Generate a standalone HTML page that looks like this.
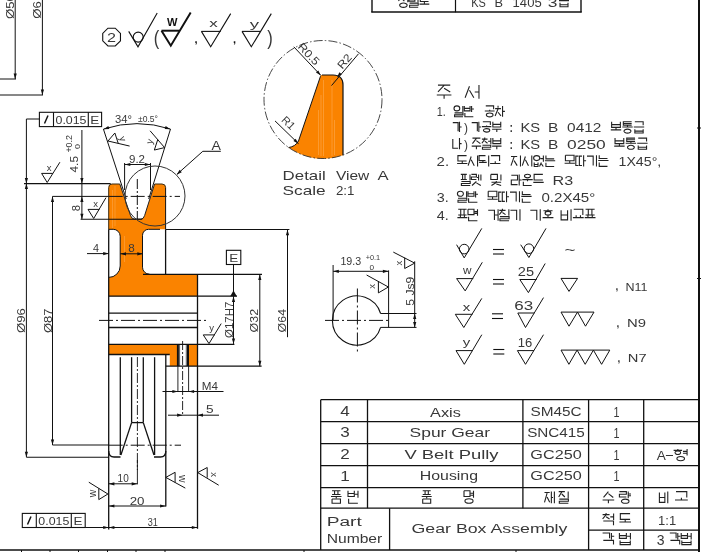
<!DOCTYPE html>
<html><head><meta charset="utf-8"><style>
html,body{margin:0;padding:0;background:#fff;overflow:hidden;width:701px;height:552px;}
svg{display:block;will-change:transform;font-family:"Liberation Sans",sans-serif;}
</style></head><body><svg width="701" height="552" viewBox="0 0 701 552" stroke-linecap="butt"><line x1="699" y1="0" x2="699" y2="552" stroke="#111" stroke-width="2"/>
<line x1="0" y1="550" x2="699" y2="550" stroke="#111" stroke-width="1.4"/>
<line x1="21.5" y1="550" x2="21.5" y2="552" stroke="#111" stroke-width="1"/>
<line x1="50" y1="550" x2="50" y2="552" stroke="#111" stroke-width="1"/>
<line x1="78.5" y1="550" x2="78.5" y2="552" stroke="#111" stroke-width="1"/>
<line x1="107.5" y1="550" x2="107.5" y2="552" stroke="#111" stroke-width="1"/>
<line x1="136" y1="550" x2="136" y2="552" stroke="#111" stroke-width="1"/>
<line x1="165" y1="550" x2="165" y2="552" stroke="#111" stroke-width="1"/>
<line x1="304" y1="550" x2="304" y2="552" stroke="#111" stroke-width="1"/>
<line x1="516" y1="550" x2="516" y2="552" stroke="#111" stroke-width="1"/>
<line x1="697" y1="128" x2="701" y2="128" stroke="#111" stroke-width="1"/>
<line x1="697" y1="278.5" x2="701" y2="278.5" stroke="#111" stroke-width="1"/>
<line x1="372" y1="0" x2="372" y2="12.3" stroke="#111" stroke-width="1.4"/>
<line x1="455.5" y1="0" x2="455.5" y2="12.3" stroke="#111" stroke-width="1.2"/>
<line x1="581" y1="0" x2="581" y2="12.3" stroke="#111" stroke-width="1.4"/>
<line x1="371.3" y1="12" x2="581.7" y2="12" stroke="#111" stroke-width="1.4"/>
<path d="M108.7 187.5Q108.7 184 112 184L119.8 184L130.6 215.8Q131.8 219.1 134.5 219.1L141 219.1Q143.5 219.1 144.6 215.6L154.6 184L162 184Q165.6 184 165.6 187.5L165.6 229.3L148.5 229.3A6 6 0 0 0 142.5 235.3L142.5 267.2A7 7 0 0 0 149.5 274.2L197.5 274.2L197.5 296.2L108.7 296.2L108.7 277.4A11.4 11.4 0 0 0 120.2 266L120.2 236.2A7 7 0 0 0 113.2 229.3L108.7 229.3Z" fill="#FA8300"/>
<path d="M108.7 344.4L177.9 344.4L177.9 366.1L169.8 366.1L169.8 354.5L108.7 354.5Z" fill="#FA8300"/>
<rect x="188" y="344.4" width="9.5" height="21.7" fill="#FA8300"/>
<line x1="112.5" y1="190" x2="112.5" y2="228" stroke="#FCA548" stroke-width="0.6"/>
<line x1="115" y1="186" x2="115" y2="226" stroke="#FCA548" stroke-width="0.6"/>
<line x1="124.5" y1="236" x2="124.5" y2="262" stroke="#FCA548" stroke-width="0.6"/>
<path d="M108.7 229.2L108.7 529.4" stroke="#111" stroke-width="1.3" fill="none" />
<path d="M108.7 229.3L113.2 229.3A7 7 0 0 1 120.2 236.2L120.2 266A11.4 11.4 0 0 1 108.7 277.4" stroke="#111" stroke-width="1.0" fill="none" />
<path d="M108.7 229.3L108.7 187.5Q108.7 184 112 184L119.8 184" stroke="#3a2a10" stroke-width="1.0" fill="none" />
<path d="M154.6 184L162 184Q165.6 184 165.6 187.5" stroke="#3a2a10" stroke-width="1.0" fill="none" />
<path d="M119.8 184L130.6 215.8Q131.8 219.1 134.5 219.1L141 219.1Q143.5 219.1 144.6 215.6L154.6 184" stroke="#222" stroke-width="1.0" fill="none" />
<path d="M165.6 187.5L165.6 229.3M160 229.3L148.5 229.3A6 6 0 0 0 142.5 235.3L142.5 267.2A7 7 0 0 0 149.5 274.2" stroke="#111" stroke-width="1.0" fill="none" />
<line x1="165.6" y1="229.2" x2="165.6" y2="274.3" stroke="#111" stroke-width="1.3"/>
<line x1="143" y1="274.3" x2="262" y2="274.3" stroke="#111" stroke-width="1.3"/>
<line x1="166" y1="229.5" x2="289.4" y2="229.5" stroke="#111" stroke-width="1.1"/>
<line x1="108.7" y1="296.2" x2="237" y2="296.2" stroke="#111" stroke-width="1.3"/>
<line x1="108.7" y1="313.2" x2="197.5" y2="313.2" stroke="#111" stroke-width="1.3"/>
<line x1="108.7" y1="327.5" x2="197.5" y2="327.5" stroke="#111" stroke-width="1.3"/>
<line x1="108.7" y1="344.4" x2="234.4" y2="344.4" stroke="#111" stroke-width="1.3"/>
<line x1="108.7" y1="354.5" x2="169.8" y2="354.5" stroke="#111" stroke-width="1.3"/>
<line x1="197.5" y1="274.3" x2="197.5" y2="528.8" stroke="#111" stroke-width="1.3"/>
<line x1="165.8" y1="354.5" x2="165.8" y2="506.6" stroke="#111" stroke-width="1.3"/>
<line x1="165.8" y1="366.1" x2="261.6" y2="366.1" stroke="#111" stroke-width="1.3"/>
<line x1="177.9" y1="344.4" x2="177.9" y2="366.1" stroke="#111" stroke-width="2.0"/>
<line x1="188" y1="344.4" x2="188" y2="366.1" stroke="#111" stroke-width="2.0"/>
<line x1="179.6" y1="344.4" x2="179.6" y2="366.1" stroke="#111" stroke-width="0.7"/>
<line x1="186.3" y1="344.4" x2="186.3" y2="366.1" stroke="#111" stroke-width="0.7"/>
<line x1="177.9" y1="366.1" x2="177.9" y2="391.5" stroke="#111" stroke-width="0.9"/>
<line x1="188.6" y1="366.1" x2="188.6" y2="391.5" stroke="#111" stroke-width="0.9"/>
<line x1="182.6" y1="341" x2="182.6" y2="415.3" stroke="#111" stroke-width="0.9" stroke-dasharray="9 2 2 2"/>
<line x1="120.3" y1="357.2" x2="120.3" y2="455" stroke="#111" stroke-width="1.3"/>
<line x1="154.6" y1="357.2" x2="154.6" y2="455" stroke="#111" stroke-width="1.3"/>
<line x1="131.6" y1="357.2" x2="131.6" y2="422.6" stroke="#111" stroke-width="1.3"/>
<line x1="143.3" y1="357.2" x2="143.3" y2="422.6" stroke="#111" stroke-width="1.3"/>
<path d="M131.6 422.6L143.3 422.6" stroke="#111" stroke-width="1.3" fill="none"/>
<path d="M131.6 422.6L120.9 455" stroke="#111" stroke-width="1.3" fill="none"/>
<path d="M143.3 422.6L154 455" stroke="#111" stroke-width="1.3" fill="none"/>
<path d="M108.7 451Q108.7 457 114 457L120.5 457" stroke="#111" stroke-width="1.3" fill="none" />
<path d="M154 457L160.5 457Q165.8 457 165.8 451" stroke="#111" stroke-width="1.3" fill="none" />
<line x1="137.4" y1="357" x2="137.4" y2="470" stroke="#111" stroke-width="0.9" stroke-dasharray="10 2 2 2"/>
<line x1="137.4" y1="460" x2="137.4" y2="484.3" stroke="#111" stroke-width="0.9"/>
<line x1="103.4" y1="129" x2="126.2" y2="199" stroke="#111" stroke-width="1.0"/>
<line x1="170.5" y1="129" x2="148.7" y2="199" stroke="#111" stroke-width="1.0"/>
<line x1="99" y1="320.4" x2="207" y2="320.4" stroke="#111" stroke-width="1.0" stroke-dasharray="14 3 2 3"/>
<line x1="108.7" y1="196.4" x2="180" y2="196.4" stroke="#111" stroke-width="1.0" stroke-dasharray="14 3 2 3"/>
<line x1="52.5" y1="196.4" x2="108.7" y2="196.4" stroke="#111" stroke-width="1.0"/>
<line x1="137.3" y1="179" x2="137.3" y2="219" stroke="#111" stroke-width="1.0" stroke-dasharray="10 2 2 2"/>
<line x1="108.7" y1="445.2" x2="181" y2="445.2" stroke="#111" stroke-width="1.0" stroke-dasharray="14 3 2 3"/>
<line x1="24" y1="183.6" x2="110.7" y2="183.6" stroke="#111" stroke-width="1.1"/>
<line x1="80.6" y1="219.2" x2="142.2" y2="219.2" stroke="#111" stroke-width="1.1"/>
<line x1="26.4" y1="457.2" x2="108.7" y2="457.2" stroke="#111" stroke-width="1.1"/>
<line x1="52.5" y1="445" x2="108.7" y2="445" stroke="#111" stroke-width="1.1"/>
<line x1="124.6" y1="163" x2="124.6" y2="190" stroke="#111" stroke-width="1.0"/>
<line x1="150.5" y1="163" x2="150.5" y2="190" stroke="#111" stroke-width="1.0"/>
<rect x="39.4" y="112.3" width="62.2" height="14.3" fill="none" stroke="#111" stroke-width="1.1"/>
<line x1="53.5" y1="112.3" x2="53.5" y2="126.6" stroke="#111" stroke-width="1.1"/>
<line x1="88.3" y1="112.3" x2="88.3" y2="126.6" stroke="#111" stroke-width="1.1"/>
<path d="M44.5 123.5L48 115.5" stroke="#111" stroke-width="1.4" fill="none" />
<text x="55.5" y="123.8" font-size="10.5" fill="#383838" text-anchor="start" font-weight="normal" font-family="Liberation Sans" textLength="31" lengthAdjust="spacingAndGlyphs">0.015</text>
<text x="90.3" y="123.8" font-size="10.5" fill="#383838" text-anchor="start" font-weight="normal" font-family="Liberation Sans" textLength="9" lengthAdjust="spacingAndGlyphs">E</text>
<path d="M39.4 119L26.4 119L26.4 183.4" stroke="#111" stroke-width="1.0" fill="none"/>
<path d="M26.4 183.4L24.8 177.9L28 177.9Z" fill="#111"/>
<line x1="26.4" y1="183.4" x2="26.4" y2="457.2" stroke="#111" stroke-width="1.0"/>
<path d="M26.4 183.6L28 189.1L24.8 189.1Z" fill="#111"/>
<path d="M26.4 457.2L24.8 451.7L28 451.7Z" fill="#111"/>
<text x="25.1" y="333" font-size="10.5" fill="#383838" text-anchor="start" font-weight="normal" font-family="Liberation Sans" textLength="25" lengthAdjust="spacingAndGlyphs" transform="rotate(-90 25.1 333)">Ø96</text>
<line x1="52.5" y1="196.4" x2="52.5" y2="445" stroke="#111" stroke-width="1.0"/>
<path d="M52.5 196.6L54.1 202.1L50.9 202.1Z" fill="#111"/>
<path d="M52.5 445L50.9 439.5L54.1 439.5Z" fill="#111"/>
<text x="51.7" y="333" font-size="10.5" fill="#383838" text-anchor="start" font-weight="normal" font-family="Liberation Sans" textLength="24.5" lengthAdjust="spacingAndGlyphs" transform="rotate(-90 51.7 333)">Ø87</text>
<line x1="81.9" y1="130" x2="81.9" y2="219.2" stroke="#111" stroke-width="1.0"/>
<path d="M81.9 183.4L80.3 177.9L83.5 177.9Z" fill="#111"/>
<path d="M81.9 196.6L83.5 202.1L80.3 202.1Z" fill="#111"/>
<path d="M81.9 219.2L80.3 213.7L83.5 213.7Z" fill="#111"/>
<text x="77.8" y="172.5" font-size="10.5" fill="#383838" text-anchor="start" font-weight="normal" font-family="Liberation Sans" textLength="16.5" lengthAdjust="spacingAndGlyphs" transform="rotate(-90 77.8 172.5)">4.5</text>
<text x="72.4" y="152.6" font-size="9" fill="#383838" text-anchor="start" font-weight="normal" font-family="Liberation Sans" textLength="17.5" lengthAdjust="spacingAndGlyphs" transform="rotate(-90 72.4 152.6)">+0.2</text>
<text x="79.8" y="149" font-size="7.5" fill="#383838" text-anchor="start" font-weight="normal" font-family="Liberation Sans" textLength="5" lengthAdjust="spacingAndGlyphs" transform="rotate(-90 79.8 149)">0</text>
<text x="79.7" y="211.2" font-size="10.5" fill="#383838" text-anchor="start" font-weight="normal" font-family="Liberation Sans" textLength="6.3" lengthAdjust="spacingAndGlyphs" transform="rotate(-90 79.7 211.2)">8</text>
<path d="M41.6 173.4L47.2 182.5L59.9 162.2" stroke="#111" stroke-width="1.0" fill="none"/>
<path d="M41.6 173.4L52.8 173.4" stroke="#111" stroke-width="1.0" fill="none"/>
<text x="49" y="171" font-size="9.5" fill="#383838" text-anchor="middle" font-weight="normal" font-family="Liberation Sans" transform="rotate(0 49 171)">x</text>
<path d="M88 209.4L93.7 218.5L106 197.6" stroke="#111" stroke-width="1.0" fill="none"/>
<path d="M88 209.4L99.4 209.4" stroke="#111" stroke-width="1.0" fill="none"/>
<text x="95.7" y="206.5" font-size="9.5" fill="#383838" text-anchor="middle" font-weight="normal" font-family="Liberation Sans" transform="rotate(0 95.7 206.5)">x</text>
<line x1="87" y1="253.6" x2="108.7" y2="253.6" stroke="#111" stroke-width="1.0"/>
<path d="M108.7 253.6L103.2 255.2L103.2 252Z" fill="#111"/>
<text x="93" y="252" font-size="10.5" fill="#383838" text-anchor="start" font-weight="normal" font-family="Liberation Sans" textLength="6" lengthAdjust="spacingAndGlyphs">4</text>
<line x1="120.3" y1="253.8" x2="143" y2="253.8" stroke="#111" stroke-width="1.0"/>
<path d="M120.5 253.8L126 252.2L126 255.4Z" fill="#111"/>
<path d="M142.8 253.8L137.3 255.4L137.3 252.2Z" fill="#111"/>
<text x="131.6" y="252" font-size="10.5" fill="#383838" text-anchor="middle" font-weight="normal" font-family="Liberation Sans" textLength="6.5" lengthAdjust="spacingAndGlyphs">8</text>
<path d="M103.6 129A109.3 109.3 0 0 1 170.4 129" stroke="#111" stroke-width="1.0" fill="none" />
<path d="M103.6 129.2L108.34 125.98L109.33 129.02Z" fill="#111"/>
<path d="M170.4 129.2L164.67 129.02L165.66 125.98Z" fill="#111"/>
<text x="115" y="123.2" font-size="10.5" fill="#383838" text-anchor="start" font-weight="normal" font-family="Liberation Sans" textLength="17" lengthAdjust="spacingAndGlyphs">34°</text>
<text x="138" y="122" font-size="8.5" fill="#383838" text-anchor="start" font-weight="normal" font-family="Liberation Sans" textLength="20" lengthAdjust="spacingAndGlyphs">±0.5°</text>
<path d="M114.86 132.99L108 141L129.62 146.07" stroke="#111" stroke-width="1.0" fill="none"/>
<path d="M114.86 132.99L118.26 143.45" stroke="#111" stroke-width="1.0" fill="none"/>
<text x="119.68" y="139.73" font-size="9.5" fill="#383838" text-anchor="middle" font-weight="normal" font-family="Liberation Sans" transform="rotate(72 119.68 139.73)">y</text>
<path d="M154.34 150.05L164.6 147.6L150.08 130.79" stroke="#111" stroke-width="1.0" fill="none"/>
<path d="M154.34 150.05L157.74 139.59" stroke="#111" stroke-width="1.0" fill="none"/>
<text x="152.83" y="142.41" font-size="9.5" fill="#383838" text-anchor="middle" font-weight="normal" font-family="Liberation Sans" transform="rotate(-72 152.83 142.41)">y</text>
<line x1="124.6" y1="164.5" x2="150.5" y2="164.5" stroke="#111" stroke-width="1.0"/>
<path d="M124.8 164.5L130.3 162.9L130.3 166.1Z" fill="#111"/>
<path d="M150.3 164.5L144.8 166.1L144.8 162.9Z" fill="#111"/>
<text x="129" y="163" font-size="10" fill="#383838" text-anchor="start" font-weight="normal" font-family="Liberation Sans" textLength="16" lengthAdjust="spacingAndGlyphs">9.2</text>
<circle cx="155" cy="196" r="30" fill="none" stroke="#333" stroke-width="1.0"/>
<path d="M220.8 151.3L202.8 151.3L177 174.3" stroke="#111" stroke-width="1.0" fill="none"/>
<path d="M176.6 174.7L179.64 169.85L181.77 172.24Z" fill="#111"/>
<text x="211.6" y="150.4" font-size="12.5" fill="#383838" text-anchor="start" font-weight="normal" font-family="Liberation Sans" textLength="9.4" lengthAdjust="spacingAndGlyphs">A</text>
<rect x="22.3" y="513.4" width="62.9" height="14.1" fill="none" stroke="#111" stroke-width="1.1"/>
<line x1="36.3" y1="513.4" x2="36.3" y2="527.5" stroke="#111" stroke-width="1.1"/>
<line x1="71.3" y1="513.4" x2="71.3" y2="527.5" stroke="#111" stroke-width="1.1"/>
<path d="M27.5 524.5L31 516.5" stroke="#111" stroke-width="1.4" fill="none" />
<text x="38.3" y="525" font-size="10.5" fill="#383838" text-anchor="start" font-weight="normal" font-family="Liberation Sans" textLength="31" lengthAdjust="spacingAndGlyphs">0.015</text>
<text x="73.5" y="525" font-size="10.5" fill="#383838" text-anchor="start" font-weight="normal" font-family="Liberation Sans" textLength="9" lengthAdjust="spacingAndGlyphs">E</text>
<line x1="85.2" y1="527.5" x2="108.7" y2="527.5" stroke="#111" stroke-width="1.0"/>
<path d="M108.7 527.5L103.2 529.1L103.2 525.9Z" fill="#111"/>
<line x1="108.7" y1="483.8" x2="137.4" y2="483.8" stroke="#111" stroke-width="1.0"/>
<path d="M108.9 483.8L114.4 482.2L114.4 485.4Z" fill="#111"/>
<path d="M137.2 483.8L131.7 485.4L131.7 482.2Z" fill="#111"/>
<text x="117.6" y="481.5" font-size="10" fill="#383838" text-anchor="start" font-weight="normal" font-family="Liberation Sans" textLength="11.1" lengthAdjust="spacingAndGlyphs">10</text>
<line x1="108.7" y1="506" x2="165.8" y2="506" stroke="#111" stroke-width="1.0"/>
<path d="M108.9 506L114.4 504.4L114.4 507.6Z" fill="#111"/>
<path d="M165.6 506L160.1 507.6L160.1 504.4Z" fill="#111"/>
<text x="129.7" y="504.7" font-size="10" fill="#383838" text-anchor="start" font-weight="normal" font-family="Liberation Sans" textLength="14.8" lengthAdjust="spacingAndGlyphs">20</text>
<line x1="108.7" y1="527.5" x2="197.5" y2="527.5" stroke="#111" stroke-width="1.0"/>
<path d="M108.9 527.5L114.4 525.9L114.4 529.1Z" fill="#111"/>
<path d="M197.3 527.5L191.8 529.1L191.8 525.9Z" fill="#111"/>
<text x="147.8" y="526" font-size="10" fill="#383838" text-anchor="start" font-weight="normal" font-family="Liberation Sans" textLength="10.1" lengthAdjust="spacingAndGlyphs">31</text>
<path d="M98.8 499.6L107.9 494L88.8 482.2" stroke="#111" stroke-width="1.0" fill="none"/>
<path d="M98.8 499.6L98.8 488.4" stroke="#111" stroke-width="1.0" fill="none"/>
<text x="95.7" y="493.5" font-size="10.5" fill="#383838" text-anchor="middle" font-weight="normal" font-family="Liberation Sans" transform="rotate(-90 95.7 493.5)">w</text>
<path d="M175.1 472.3L165.8 477.4L185.3 488.1" stroke="#111" stroke-width="1.0" fill="none"/>
<path d="M175.1 472.3L175.1 482.5" stroke="#111" stroke-width="1.0" fill="none"/>
<text x="178.5" y="478.7" font-size="10.5" fill="#383838" text-anchor="middle" font-weight="normal" font-family="Liberation Sans" transform="rotate(90 178.5 478.7)">w</text>
<path d="M207.2 467.5L197.7 472.6L218.7 485.2" stroke="#111" stroke-width="1.0" fill="none"/>
<path d="M207.2 467.5L207.2 477.7" stroke="#111" stroke-width="1.0" fill="none"/>
<text x="211" y="474.7" font-size="9.5" fill="#383838" text-anchor="middle" font-weight="normal" font-family="Liberation Sans" transform="rotate(90 211 474.7)">x</text>
<rect x="226.4" y="250.3" width="14.4" height="14.2" fill="none" stroke="#111" stroke-width="1.1"/>
<text x="229.3" y="261.6" font-size="10.5" fill="#383838" text-anchor="start" font-weight="normal" font-family="Liberation Sans" textLength="9" lengthAdjust="spacingAndGlyphs">E</text>
<line x1="233.5" y1="264.5" x2="233.5" y2="296.2" stroke="#111" stroke-width="1.0"/>
<path d="M230.2 296.3L236.8 296.3L233.5 290.5Z" fill="#111"/>
<line x1="233.5" y1="296.2" x2="233.5" y2="343.9" stroke="#111" stroke-width="1.0"/>
<path d="M233.5 296.6L235.1 302.1L231.9 302.1Z" fill="#111"/>
<path d="M233.5 343.9L231.9 338.4L235.1 338.4Z" fill="#111"/>
<text x="232.8" y="337.9" font-size="10.5" fill="#383838" text-anchor="start" font-weight="normal" font-family="Liberation Sans" textLength="36.3" lengthAdjust="spacingAndGlyphs" transform="rotate(-90 232.8 337.9)">Ø17H7</text>
<line x1="259.8" y1="274.4" x2="259.8" y2="366.2" stroke="#111" stroke-width="1.0"/>
<path d="M259.8 274.6L261.4 280.1L258.2 280.1Z" fill="#111"/>
<path d="M259.8 366.2L258.2 360.7L261.4 360.7Z" fill="#111"/>
<text x="258.3" y="332.4" font-size="10.5" fill="#383838" text-anchor="start" font-weight="normal" font-family="Liberation Sans" textLength="23.5" lengthAdjust="spacingAndGlyphs" transform="rotate(-90 258.3 332.4)">Ø32</text>
<line x1="287.5" y1="229.6" x2="287.5" y2="337.2" stroke="#111" stroke-width="1.0"/>
<path d="M287.5 229.8L289.1 235.3L285.9 235.3Z" fill="#111"/>
<text x="286" y="332.4" font-size="10.5" fill="#383838" text-anchor="start" font-weight="normal" font-family="Liberation Sans" textLength="23.5" lengthAdjust="spacingAndGlyphs" transform="rotate(-90 286 332.4)">Ø64</text>
<path d="M203.25 334.9L209 343.6L221.2 323.6" stroke="#111" stroke-width="1.0" fill="none"/>
<path d="M203.25 334.9L214.75 334.9" stroke="#111" stroke-width="1.0" fill="none"/>
<text x="211.7" y="331.1" font-size="9.5" fill="#383838" text-anchor="middle" font-weight="normal" font-family="Liberation Sans" transform="rotate(0 211.7 331.1)">y</text>
<line x1="162.5" y1="391.5" x2="223.5" y2="391.5" stroke="#111" stroke-width="1.0"/>
<path d="M177.9 391.5L172.4 393.1L172.4 389.9Z" fill="#111"/>
<path d="M188.6 391.5L194.1 389.9L194.1 393.1Z" fill="#111"/>
<text x="201.8" y="389.8" font-size="10" fill="#383838" text-anchor="start" font-weight="normal" font-family="Liberation Sans" textLength="16.2" lengthAdjust="spacingAndGlyphs">M4</text>
<line x1="168" y1="415.2" x2="219" y2="415.2" stroke="#111" stroke-width="1.0"/>
<path d="M182.6 415.2L177.1 416.8L177.1 413.6Z" fill="#111"/>
<path d="M197.5 415.2L203 413.6L203 416.8Z" fill="#111"/>
<text x="206" y="413.3" font-size="10" fill="#383838" text-anchor="start" font-weight="normal" font-family="Liberation Sans" textLength="7.6" lengthAdjust="spacingAndGlyphs">5</text>
<line x1="15.2" y1="0" x2="15.2" y2="79" stroke="#111" stroke-width="1.0"/>
<path d="M15.2 79L13.6 73.5L16.8 73.5Z" fill="#111"/>
<line x1="0" y1="79" x2="16" y2="79" stroke="#111" stroke-width="1.0"/>
<line x1="42.4" y1="0" x2="42.4" y2="95" stroke="#111" stroke-width="1.0"/>
<path d="M42.4 95L40.8 89.5L44 89.5Z" fill="#111"/>
<line x1="0" y1="95" x2="43" y2="95" stroke="#111" stroke-width="1.0"/>
<text x="13.6" y="19" font-size="10.5" fill="#383838" text-anchor="start" font-weight="normal" font-family="Liberation Sans" textLength="25" lengthAdjust="spacingAndGlyphs" transform="rotate(-90 13.6 19)">Ø50</text>
<text x="40.8" y="18.7" font-size="10.5" fill="#383838" text-anchor="start" font-weight="normal" font-family="Liberation Sans" textLength="25" lengthAdjust="spacingAndGlyphs" transform="rotate(-90 40.8 18.7)">Ø61</text>
<path d="M120.47 40.77L115.27 45.97L107.93 45.97L102.73 40.77L102.73 33.43L107.93 28.23L115.27 28.23L120.47 33.43Z" stroke="#111" stroke-width="1.1" fill="none"/>
<text x="111.6" y="41.6" font-size="12" fill="#383838" text-anchor="middle" font-weight="normal" font-family="Liberation Sans" textLength="9" lengthAdjust="spacingAndGlyphs">2</text>
<path d="M128.7 31.4L138 46.8L157.2 12.9" stroke="#111" stroke-width="1.1" fill="none"/>
<circle cx="138.2" cy="37.1" r="5" fill="none" stroke="#111" stroke-width="1.1"/>
<text x="153.8" y="44.8" font-size="20" fill="#383838" text-anchor="start" font-weight="normal" font-family="Liberation Sans" textLength="5.5" lengthAdjust="spacingAndGlyphs">(</text>
<path d="M161.5 30.7L179.3 30.7" stroke="#111" stroke-width="2.0" fill="none"/>
<path d="M161.5 30.7L170.8 45.7L190.7 12.6" stroke="#111" stroke-width="2.0" fill="none"/>
<text x="172.2" y="25.9" font-size="10" fill="#111" text-anchor="middle" font-weight="bold" font-family="Liberation Sans" textLength="10.5" lengthAdjust="spacingAndGlyphs">W</text>
<text x="194.5" y="43" font-size="11" fill="#111" text-anchor="start" font-weight="bold" font-family="Liberation Sans">,</text>
<path d="M201.4 31.4L220.7 31.4" stroke="#111" stroke-width="1.1" fill="none"/>
<path d="M201.4 31.4L210.7 46.8L230.7 13.6" stroke="#111" stroke-width="1.1" fill="none"/>
<text x="213.5" y="27.3" font-size="11.5" fill="#383838" text-anchor="middle" font-weight="normal" font-family="Liberation Sans" textLength="8.5" lengthAdjust="spacingAndGlyphs">x</text>
<text x="233" y="43" font-size="11" fill="#111" text-anchor="start" font-weight="bold" font-family="Liberation Sans">,</text>
<path d="M242 31.4L260.6 31.4" stroke="#111" stroke-width="1.1" fill="none"/>
<path d="M242 31.4L251.3 46.8L271.3 13.6" stroke="#111" stroke-width="1.1" fill="none"/>
<text x="254.5" y="27.8" font-size="11" fill="#383838" text-anchor="middle" font-weight="normal" font-family="Liberation Sans" textLength="9.3" lengthAdjust="spacingAndGlyphs">y</text>
<text x="267.2" y="44.8" font-size="20" fill="#383838" text-anchor="start" font-weight="normal" font-family="Liberation Sans" textLength="5.5" lengthAdjust="spacingAndGlyphs">)</text>
<path d="M320.5 76.2Q320.8 75 322 75L333 75Q343 75 343 85L343 155.2A59 59 0 0 1 288.5 147.6Q295.5 146.5 298.5 141L320.5 76.2Z" fill="#FA8300"/>
<path d="M322 75L333 75Q343 75 343 85L343 155.2" stroke="#111" stroke-width="1.2" fill="none" />
<path d="M320.5 76.2L298.5 141Q295.5 146.5 288.5 147.6" stroke="#111" stroke-width="1.0" fill="none" />
<circle cx="323" cy="99.5" r="59" fill="none" stroke="#333" stroke-width="0.9" stroke-dasharray="9 2.2 1.5 2.2"/>
<line x1="318.5" y1="110" x2="318.5" y2="155" stroke="#FDB060" stroke-width="0.5"/>
<line x1="321" y1="95" x2="321" y2="156" stroke="#FDB060" stroke-width="0.5"/>
<line x1="323.5" y1="80" x2="323.5" y2="156" stroke="#FDB060" stroke-width="0.5"/>
<line x1="332" y1="80" x2="332" y2="156" stroke="#FDB060" stroke-width="0.5"/>
<line x1="334.5" y1="120" x2="334.5" y2="155" stroke="#FDB060" stroke-width="0.5"/>
<line x1="293.8" y1="46.8" x2="320.9" y2="75.5" stroke="#111" stroke-width="1.0"/>
<path d="M320.9 75.5L315.96 72.6L318.28 70.4Z" fill="#111"/>
<text x="297.2" y="47.2" font-size="11" fill="#383838" text-anchor="start" font-weight="normal" font-family="Liberation Sans" textLength="26" lengthAdjust="spacingAndGlyphs" transform="rotate(46.6 297.2 47.2)">R0.5</text>
<line x1="358.5" y1="53.8" x2="331.5" y2="85.6" stroke="#111" stroke-width="1.0"/>
<path d="M337 77.5L339.34 72.27L341.78 74.34Z" fill="#111"/>
<text x="342.2" y="69.8" font-size="11" fill="#383838" text-anchor="start" font-weight="normal" font-family="Liberation Sans" textLength="16" lengthAdjust="spacingAndGlyphs" transform="rotate(-49.7 342.2 69.8)">R2</text>
<line x1="275" y1="120.9" x2="298.5" y2="143.7" stroke="#111" stroke-width="1.0"/>
<path d="M298.5 143.7L293.44 141.02L295.66 138.72Z" fill="#111"/>
<text x="280.8" y="120.8" font-size="11" fill="#383838" text-anchor="start" font-weight="normal" font-family="Liberation Sans" textLength="14" lengthAdjust="spacingAndGlyphs" transform="rotate(44.1 280.8 120.8)">R1</text>
<text x="282.6" y="179.5" font-size="12.8" fill="#383838" text-anchor="start" font-weight="normal" font-family="Liberation Sans" textLength="43.1" lengthAdjust="spacingAndGlyphs">Detail</text>
<text x="335.9" y="179.5" font-size="12.8" fill="#383838" text-anchor="start" font-weight="normal" font-family="Liberation Sans" textLength="33.4" lengthAdjust="spacingAndGlyphs">View</text>
<text x="377.6" y="179.5" font-size="12.8" fill="#383838" text-anchor="start" font-weight="normal" font-family="Liberation Sans" textLength="11.1" lengthAdjust="spacingAndGlyphs">A</text>
<text x="282.6" y="194.7" font-size="12.8" fill="#383838" text-anchor="start" font-weight="normal" font-family="Liberation Sans" textLength="43.1" lengthAdjust="spacingAndGlyphs">Scale</text>
<text x="335.9" y="194.7" font-size="12.8" fill="#383838" text-anchor="start" font-weight="normal" font-family="Liberation Sans" textLength="18.5" lengthAdjust="spacingAndGlyphs">2:1</text>
<path d="M380.6 313.5A24.6 24.6 0 1 0 380.6 327.4" stroke="#111" stroke-width="1.1" fill="none" />
<line x1="380.6" y1="313.5" x2="416.5" y2="313.5" stroke="#111" stroke-width="1.0"/>
<line x1="380.6" y1="327.4" x2="416.5" y2="327.4" stroke="#111" stroke-width="1.0"/>
<line x1="388.6" y1="270.4" x2="388.6" y2="327.4" stroke="#111" stroke-width="1.0"/>
<line x1="333.1" y1="265" x2="333.1" y2="320.4" stroke="#111" stroke-width="1.0"/>
<line x1="325" y1="320.4" x2="389.7" y2="320.4" stroke="#111" stroke-width="1.0" stroke-dasharray="14 3 2 3"/>
<line x1="357.4" y1="288.5" x2="357.4" y2="352.8" stroke="#111" stroke-width="1.0" stroke-dasharray="14 3 2 3"/>
<line x1="333.1" y1="271.3" x2="388.6" y2="271.3" stroke="#111" stroke-width="1.0"/>
<path d="M333.3 271.3L338.8 269.7L338.8 272.9Z" fill="#111"/>
<path d="M388.4 271.3L382.9 272.9L382.9 269.7Z" fill="#111"/>
<text x="340.4" y="265.3" font-size="10.5" fill="#383838" text-anchor="start" font-weight="normal" font-family="Liberation Sans" textLength="20.8" lengthAdjust="spacingAndGlyphs">19.3</text>
<text x="365.7" y="260.4" font-size="7.5" fill="#383838" text-anchor="start" font-weight="normal" font-family="Liberation Sans" textLength="14.5" lengthAdjust="spacingAndGlyphs">+0.1</text>
<text x="369.4" y="269.5" font-size="7.5" fill="#383838" text-anchor="start" font-weight="normal" font-family="Liberation Sans" textLength="4.6" lengthAdjust="spacingAndGlyphs">0</text>
<line x1="414.7" y1="261.3" x2="414.7" y2="327.4" stroke="#111" stroke-width="1.0"/>
<path d="M414.7 313.5L416.3 319L413.1 319Z" fill="#111"/>
<path d="M414.7 327.4L413.1 321.9L416.3 321.9Z" fill="#111"/>
<text x="414.3" y="305.7" font-size="10" fill="#383838" text-anchor="start" font-weight="normal" font-family="Liberation Sans" textLength="29" lengthAdjust="spacingAndGlyphs" transform="rotate(-90 414.3 305.7)">5 Js9</text>
<path d="M378.4 292.9L388.4 287L366.6 275" stroke="#111" stroke-width="1.0" fill="none"/>
<path d="M378.4 292.9L378.4 281.1" stroke="#111" stroke-width="1.0" fill="none"/>
<text x="375.5" y="286.3" font-size="9.5" fill="#383838" text-anchor="middle" font-weight="normal" font-family="Liberation Sans" transform="rotate(-90 375.5 286.3)">x</text>
<path d="M404.7 268.5L414.7 263.1L393.3 252.1" stroke="#111" stroke-width="1.0" fill="none"/>
<path d="M404.7 268.5L404.7 257.7" stroke="#111" stroke-width="1.0" fill="none"/>
<text x="401.8" y="263.1" font-size="9.5" fill="#383838" text-anchor="middle" font-weight="normal" font-family="Liberation Sans" transform="rotate(-90 401.8 263.1)">x</text>
<path d="M437.97 85.1L450.23 85.1M444.1 85.44L437.97 91.95M444.1 88.18L450.23 91.95M436.8 94.96L451.4 94.96M444.1 94.96L444.1 98.8" stroke="#222" stroke-width="1.1" fill="none"/>
<path d="M469.48 86.2L465.1 97.7M469.48 90.22L473.86 97.7M478.97 85.1L478.97 98.8M474.74 91.95L478.97 91.95" stroke="#222" stroke-width="1.1" fill="none"/>
<text x="436.8" y="116" font-size="13.5" fill="#383838" text-anchor="start" font-weight="normal" font-family="Liberation Sans" textLength="9" lengthAdjust="spacingAndGlyphs">1.</text>
<path d="M454 108.41a2.88 2.51 0 1 0 5.76 0a2.88 2.51 0 1 0 -5.76 0M462.83 105.9L462.83 112M454.58 112.88L463.02 112.88L463.02 114.84L454.58 114.84L454.58 116.8L463.02 116.8M464.3 105.9L464.3 110.91L470.06 110.91L470.06 105.9M464.3 108.41L470.06 108.41M471.6 105.9L471.6 112M471.6 108.95L473.9 108.95M464.88 112.88L464.88 116.8L473.32 116.8" stroke="#222" stroke-width="1.1" fill="none"/>
<path d="M485.78 105.9L493.62 105.9L493.62 109.17M486.36 114.95a3.34 1.85 0 1 0 6.67 0a3.34 1.85 0 1 0 -6.67 0M484.8 111.02L494.6 111.02M489.7 109.72L489.7 111.02M498.04 105.86L498.04 107.87M495.1 108.6L500.98 108.6M498.04 109.06L495.1 115.93M498.04 112.27L500.98 115.93M502.55 105.9L502.55 116.8M502.55 111.35L504.9 111.35" stroke="#222" stroke-width="1.1" fill="none"/>
<path d="M452.8 122.62L458.08 122.62L458.08 131.28M459.49 121.8L459.49 132.1M459.49 126.95L461.6 126.95" stroke="#222" stroke-width="1.1" fill="none"/>
<text x="464" y="132.1" font-size="12" fill="#383838" text-anchor="start" font-weight="normal" font-family="Liberation Sans" textLength="4" lengthAdjust="spacingAndGlyphs">)</text>
<path d="M471.7 122.62L477.34 122.62L477.34 131.28M478.84 121.8L478.84 132.1M478.84 126.95L481.1 126.95M482.84 121.8L490.36 121.8L490.36 124.89M483.45 130.35a3.15 1.75 0 1 0 6.3 0a3.15 1.75 0 1 0 -6.3 0M481.9 126.64L491.3 126.64M486.6 125.41L486.6 126.64M492.85 121.8L492.85 126.95L500.75 126.95L500.75 121.8M492.85 124.38L500.75 124.38M492.1 129.22L501.5 129.22M496.8 129.22L496.8 132.1" stroke="#222" stroke-width="1.1" fill="none"/>
<text x="509.5" y="132.1" font-size="13" fill="#383838" text-anchor="start" font-weight="bold" font-family="Liberation Sans" textLength="3.5" lengthAdjust="spacingAndGlyphs">:</text>
<text x="520.5" y="132.1" font-size="13" fill="#383838" text-anchor="start" font-weight="normal" font-family="Liberation Sans" textLength="19.7" lengthAdjust="spacingAndGlyphs">KS</text>
<text x="547.9" y="132.1" font-size="13" fill="#383838" text-anchor="start" font-weight="normal" font-family="Liberation Sans" textLength="10.3" lengthAdjust="spacingAndGlyphs">B</text>
<text x="567.1" y="132.1" font-size="13" fill="#383838" text-anchor="start" font-weight="normal" font-family="Liberation Sans" textLength="34.3" lengthAdjust="spacingAndGlyphs">0412</text>
<path d="M611.63 121.8L611.63 127.4L620.37 127.4L620.37 121.8M611.63 124.6L620.37 124.6M610.8 129.86L621.2 129.86M616 127.62L616 129.86M631.66 121.8L623.34 121.8L623.34 125.16L631.66 125.16M623.34 123.48L631.66 123.48M624.07 131.1a3.43 1.9 0 1 0 6.85 0a3.43 1.9 0 1 0 -6.85 0M622.3 127.06L632.7 127.06M627.5 125.72L627.5 127.06M634.84 121.8L643.16 121.8L643.16 125.16M634.84 129.19L634.84 133L643.16 133L643.16 129.19M634.84 131.1L643.16 131.1M633.8 127.06L644.2 127.06" stroke="#222" stroke-width="1.1" fill="none"/>
<path d="M452.8 138.99L452.8 148.31L458.08 148.31M459.49 138.1L459.49 149.2M459.49 143.65L461.6 143.65" stroke="#222" stroke-width="1.1" fill="none"/>
<text x="464" y="149.2" font-size="12" fill="#383838" text-anchor="start" font-weight="normal" font-family="Liberation Sans" textLength="4" lengthAdjust="spacingAndGlyphs">)</text>
<path d="M472.45 138.1L480.35 138.1M476.4 138.38L472.45 143.65M476.4 140.6L480.35 143.65M471.7 146.09L481.1 146.09M476.4 146.09L476.4 149.2M484.72 137.59L484.72 138.71M481.9 139.12L487.54 139.12M484.72 139.38L481.9 143.21M484.72 141.16L487.54 143.21M490.83 138.1L490.83 144.32M488.1 141.21L490.83 141.21M482.46 145.2L490.74 145.2L490.74 147.2L482.46 147.2L482.46 149.2L490.74 149.2M492.85 138.1L492.85 143.65L500.75 143.65L500.75 138.1M492.85 140.88L500.75 140.88M492.1 146.09L501.5 146.09M496.8 146.09L496.8 149.2" stroke="#222" stroke-width="1.1" fill="none"/>
<text x="509.5" y="148.6" font-size="13" fill="#383838" text-anchor="start" font-weight="bold" font-family="Liberation Sans" textLength="3.5" lengthAdjust="spacingAndGlyphs">:</text>
<text x="520.5" y="148.6" font-size="13" fill="#383838" text-anchor="start" font-weight="normal" font-family="Liberation Sans" textLength="19.7" lengthAdjust="spacingAndGlyphs">KS</text>
<text x="547.9" y="148.6" font-size="13" fill="#383838" text-anchor="start" font-weight="normal" font-family="Liberation Sans" textLength="10.3" lengthAdjust="spacingAndGlyphs">B</text>
<text x="567.1" y="148.6" font-size="13" fill="#383838" text-anchor="start" font-weight="normal" font-family="Liberation Sans" textLength="38.6" lengthAdjust="spacingAndGlyphs">0250</text>
<path d="M615.03 138.1L615.03 143.65L623.77 143.65L623.77 138.1M615.03 140.88L623.77 140.88M614.2 146.09L624.6 146.09M619.4 143.87L619.4 146.09M635.06 138.1L626.74 138.1L626.74 141.43L635.06 141.43M626.74 139.76L635.06 139.76M627.5 147.31a3.4 1.89 0 1 0 6.79 0a3.4 1.89 0 1 0 -6.79 0M625.7 143.32L636.1 143.32M630.9 141.98L630.9 143.32M638.24 138.1L646.56 138.1L646.56 141.43M638.24 145.43L638.24 149.2L646.56 149.2L646.56 145.43M638.24 147.31L646.56 147.31M637.2 143.32L647.6 143.32" stroke="#222" stroke-width="1.1" fill="none"/>
<text x="436.6" y="165.6" font-size="13" fill="#383838" text-anchor="start" font-weight="normal" font-family="Liberation Sans" textLength="12.5" lengthAdjust="spacingAndGlyphs">2.</text>
<path d="M466.58 155.6L457.92 155.6L457.92 161.05L466.58 161.05M457.1 163.45L467.4 163.45M462.25 161.27L462.25 163.45M471.19 156.47L468.1 165.63M471.19 159.68L474.28 165.63M477.58 155.6L477.58 166.5M485.49 155.6L479.1 155.6L479.1 160.5L485.49 160.5M479.1 162.36L486.72 162.36M482.91 161.05L482.91 162.36M488.68 155.6L488.68 166.5M490.92 155.6L499.58 155.6L499.58 161.05M490.1 163.45L500.4 163.45M495.25 161.27L495.25 163.45" stroke="#222" stroke-width="1.1" fill="none"/>
<path d="M511 156.47L517.18 156.47M514.09 156.93L511 165.63M514.09 160.59L517.18 165.63M520.48 155.6L520.48 166.5M525.39 156.47L522.3 165.63M525.39 159.68L528.48 165.63M531.78 155.6L531.78 166.5M533.6 158.11a3.09 2.51 0 1 0 6.18 0a3.09 2.51 0 1 0 -6.18 0M543.38 155.6L543.38 161.7M540.4 158.65L543.38 158.65M534.22 162.58L534.22 166.5L538.02 166.5L538.02 162.58M534.22 164.54L538.02 164.54M541.38 162.58L539.48 166.5M541.38 163.95L543.28 166.5M545.93 155.6L545.93 158.87L554.17 158.87M545.93 162.79L545.93 166.5L554.17 166.5M544.9 160.72L555.2 160.72" stroke="#222" stroke-width="1.1" fill="none"/>
<path d="M565.42 155.2L574.08 155.2L574.08 160.8L565.42 160.8L565.42 155.2M564.6 163.26L574.9 163.26M569.75 161.02L569.75 163.26M578.4 156.1L575.8 156.1L575.8 165.5L578.4 165.5M581.98 156.1L579.38 156.1L579.38 165.5L581.98 165.5M583.63 155.2L583.63 166.4M583.63 160.8L586.1 160.8M587 156.1L593.18 156.1L593.18 165.5M596.48 155.2L596.48 166.4M599.23 155.2L599.23 158.56L607.47 158.56M599.23 162.59L599.23 166.4L607.47 166.4M598.2 160.46L608.5 160.46" stroke="#222" stroke-width="1.1" fill="none"/>
<text x="618.5" y="166.4" font-size="13" fill="#383838" text-anchor="start" font-weight="normal" font-family="Liberation Sans" textLength="42.8" lengthAdjust="spacingAndGlyphs">1X45°,</text>
<path d="M460.8 174.4L466.8 174.4M460.8 179.51L466.8 179.51M462.6 174.4L462.6 179.51M465 174.4L465 179.51M470 174.4L470 180.62M461.4 181.5L470.2 181.5L470.2 183.5L461.4 183.5L461.4 185.5L470.2 185.5M471.4 174.4L476.4 174.4L476.4 176.95L471.4 176.95L471.4 179.51L476.4 179.51M476.9 177.51L478.6 177.51M478.6 174.4L478.6 180.62M480.9 174.4L480.9 180.62M476.4 181.5L472 185.5M476.4 182.9L480.8 185.5" stroke="#222" stroke-width="1.1" fill="none"/>
<path d="M490.8 174.4L497.4 174.4L497.4 179.51L490.8 179.51L490.8 174.4M500.92 174.4L500.92 180.62M496.3 181.1L496.3 181.98M491.46 182.3L501.14 182.3M496.3 182.5L491.46 185.5M496.3 183.9L501.14 185.5" stroke="#222" stroke-width="1.1" fill="none"/>
<path d="M511.3 175.29L517.54 175.29L517.54 179.95L511.3 179.95L511.3 184.61L517.54 184.61M519.2 174.4L519.2 185.5M519.2 179.95L521.7 179.95M524.5 176.06a3 1.67 0 1 0 5.99 0a3 1.67 0 1 0 -5.99 0M523.34 181.73L523.34 185.5L531.66 185.5M522.3 179.62L532.7 179.62M527.5 179.62L527.5 181.17M542.87 174.4L534.13 174.4L534.13 179.95L542.87 179.95M533.3 182.39L543.7 182.39" stroke="#222" stroke-width="1.1" fill="none"/>
<text x="552.5" y="184.7" font-size="13" fill="#383838" text-anchor="start" font-weight="normal" font-family="Liberation Sans" textLength="20.6" lengthAdjust="spacingAndGlyphs">R3</text>
<text x="436.8" y="201.8" font-size="13" fill="#383838" text-anchor="start" font-weight="normal" font-family="Liberation Sans" textLength="12" lengthAdjust="spacingAndGlyphs">3.</text>
<path d="M457.4 193.75a3 2.55 0 1 0 6 0a3 2.55 0 1 0 -6 0M466.6 191.2L466.6 197.42M458 198.3L466.8 198.3L466.8 200.3L458 200.3L458 202.3L466.8 202.3M468 191.2L468 196.31L474 196.31L474 191.2M468 193.75L474 193.75M475.6 191.2L475.6 197.42M475.6 194.31L478 194.31M468.6 198.3L468.6 202.3L477.4 202.3" stroke="#222" stroke-width="1.1" fill="none"/>
<path d="M488.22 191.2L496.88 191.2L496.88 196.75L488.22 196.75L488.22 191.2M487.4 199.19L497.7 199.19M492.55 196.97L492.55 199.19M501.3 192.09L498.7 192.09L498.7 201.41L501.3 201.41M504.88 192.09L502.28 192.09L502.28 201.41L504.88 201.41M506.53 191.2L506.53 202.3M506.53 196.75L509 196.75M510 192.09L516.18 192.09L516.18 201.41M519.48 191.2L519.48 202.3M522.33 191.2L522.33 194.53L530.57 194.53M522.33 198.53L522.33 202.3L530.57 202.3M521.3 196.42L531.6 196.42" stroke="#222" stroke-width="1.1" fill="none"/>
<text x="541.4" y="201.8" font-size="13" fill="#383838" text-anchor="start" font-weight="normal" font-family="Liberation Sans" textLength="53.9" lengthAdjust="spacingAndGlyphs">0.2X45°</text>
<text x="436.8" y="219.8" font-size="13" fill="#383838" text-anchor="start" font-weight="normal" font-family="Liberation Sans" textLength="12" lengthAdjust="spacingAndGlyphs">4.</text>
<path d="M458.2 209.3L466.6 209.3M458.2 215.05L466.6 215.05M460.72 209.3L460.72 215.05M464.08 209.3L464.08 215.05M457.4 217.58L467.4 217.58M460.4 215.28L460.4 217.58M464.4 215.28L464.4 217.58M468 209.3L474 209.3L474 214.59L468 214.59L468 209.3M477.5 209.3L477.5 215.74M474.6 211.62L477.5 211.62M474.6 213.42L477.5 213.42M468.6 216.66L468.6 220.8L477.4 220.8" stroke="#222" stroke-width="1.1" fill="none"/>
<path d="M488.2 210.22L494.44 210.22L494.44 219.88M498.08 209.3L498.08 220.8M495.06 215.05L498.08 215.05M502.42 208.77L502.42 209.93M499.3 210.36L505.54 210.36M502.42 210.62L499.3 214.59M502.42 212.47L505.54 214.59M508.87 209.3L508.87 215.74M499.92 216.66L509.08 216.66L509.08 218.73L499.92 218.73L499.92 220.8L509.08 220.8M510.4 210.22L516.64 210.22L516.64 219.88M519.97 209.3L519.97 220.8" stroke="#222" stroke-width="1.1" fill="none"/>
<path d="M530.3 210.22L536.78 210.22L536.78 219.88M540.24 209.3L540.24 220.8M548 209.3L548 210.16M543.46 210.74L552.54 210.74M545.1 213.21a2.9 1.84 0 1 0 5.81 0a2.9 1.84 0 1 0 -5.81 0M542.6 217.58L553.4 217.58M548 215.28L548 217.58" stroke="#222" stroke-width="1.1" fill="none"/>
<path d="M561.1 210.22L561.1 219.88L567.58 219.88L567.58 210.22M561.1 215.05L567.58 215.05M571.04 209.3L571.04 220.8M573.76 209.3L582.84 209.3L582.84 215.05M572.9 217.58L583.7 217.58M576.14 215.28L576.14 217.58M580.46 215.28L580.46 217.58M585.56 209.3L594.64 209.3M585.56 215.05L594.64 215.05M588.29 209.3L588.29 215.05M591.91 209.3L591.91 215.05M584.7 217.58L595.5 217.58M587.94 215.28L587.94 217.58M592.26 215.28L592.26 217.58" stroke="#222" stroke-width="1.1" fill="none"/>
<path d="M456.6 244.7L464.2 257.9L481.8 228.4" stroke="#111" stroke-width="1.0" fill="none"/>
<circle cx="464.2" cy="249.1" r="4.8" fill="none" stroke="#111" stroke-width="1.0"/>
<path d="M520.7 244.7L528.9 257.5L546 228.4" stroke="#111" stroke-width="1.0" fill="none"/>
<circle cx="528.9" cy="248.7" r="4.8" fill="none" stroke="#111" stroke-width="1.0"/>
<line x1="493" y1="249.5" x2="504" y2="249.5" stroke="#111" stroke-width="1.1"/>
<line x1="493" y1="254" x2="504" y2="254" stroke="#111" stroke-width="1.1"/>
<text x="564.4" y="254" font-size="12" fill="#383838" text-anchor="start" font-weight="normal" font-family="Liberation Sans" textLength="11" lengthAdjust="spacingAndGlyphs">~</text>
<path d="M456.6 278.6L473.3 278.6" stroke="#111" stroke-width="1.0" fill="none"/>
<path d="M456.6 278.6L465.2 290.9L482.3 262.3" stroke="#111" stroke-width="1.0" fill="none"/>
<text x="467.2" y="274" font-size="10" fill="#383838" text-anchor="middle" font-weight="normal" font-family="Liberation Sans" textLength="8.5" lengthAdjust="spacingAndGlyphs">w</text>
<line x1="493" y1="279.5" x2="504" y2="279.5" stroke="#111" stroke-width="1.1"/>
<line x1="493" y1="284" x2="504" y2="284" stroke="#111" stroke-width="1.1"/>
<path d="M519.8 279.5L536.6 279.5" stroke="#111" stroke-width="1.0" fill="none"/>
<path d="M519.8 279.5L528.4 292.6L545.2 263.5" stroke="#111" stroke-width="1.0" fill="none"/>
<text x="517.8" y="276.2" font-size="12.5" fill="#383838" text-anchor="start" font-weight="normal" font-family="Liberation Sans" textLength="16.2" lengthAdjust="spacingAndGlyphs">25</text>
<path d="M561 278.4L577.6 278.4L569 291.4L561 278.4" stroke="#111" stroke-width="1.0" fill="none"/>
<text x="615.5" y="290" font-size="10" fill="#383838" text-anchor="start" font-weight="bold" font-family="Liberation Sans">,</text>
<text x="625.5" y="291" font-size="10.5" fill="#383838" text-anchor="start" font-weight="normal" font-family="Liberation Sans" textLength="22" lengthAdjust="spacingAndGlyphs">N11</text>
<path d="M455.3 314.3L472.4 314.3" stroke="#111" stroke-width="1.0" fill="none"/>
<path d="M455.3 314.3L463.8 327.5L481.8 298.4" stroke="#111" stroke-width="1.0" fill="none"/>
<text x="466.4" y="310.6" font-size="10.5" fill="#383838" text-anchor="middle" font-weight="normal" font-family="Liberation Sans" textLength="7.5" lengthAdjust="spacingAndGlyphs">x</text>
<line x1="492" y1="313.8" x2="503" y2="313.8" stroke="#111" stroke-width="1.1"/>
<line x1="492" y1="318.5" x2="503" y2="318.5" stroke="#111" stroke-width="1.1"/>
<path d="M517.8 313L534.4 313" stroke="#111" stroke-width="1.0" fill="none"/>
<path d="M517.8 313L525.5 327.5L543.5 297.6" stroke="#111" stroke-width="1.0" fill="none"/>
<text x="514.3" y="310.2" font-size="12.5" fill="#383838" text-anchor="start" font-weight="normal" font-family="Liberation Sans" textLength="18.9" lengthAdjust="spacingAndGlyphs">63</text>
<path d="M561 312.1L594 312.1L585.5 326.2L577.5 312.1L569 326.2L561 312.1" stroke="#111" stroke-width="1.0" fill="none"/>
<text x="616.5" y="326.5" font-size="10" fill="#383838" text-anchor="start" font-weight="bold" font-family="Liberation Sans">,</text>
<text x="627" y="327.2" font-size="10.5" fill="#383838" text-anchor="start" font-weight="normal" font-family="Liberation Sans" textLength="19" lengthAdjust="spacingAndGlyphs">N9</text>
<path d="M456 350.6L472.9 350.6" stroke="#111" stroke-width="1.0" fill="none"/>
<path d="M456 350.6L464.3 364.3L481.8 334.7" stroke="#111" stroke-width="1.0" fill="none"/>
<text x="466.6" y="345.5" font-size="10.5" fill="#383838" text-anchor="middle" font-weight="normal" font-family="Liberation Sans" textLength="7.5" lengthAdjust="spacingAndGlyphs">y</text>
<line x1="493.3" y1="349.5" x2="504.3" y2="349.5" stroke="#111" stroke-width="1.1"/>
<line x1="493.3" y1="354" x2="504.3" y2="354" stroke="#111" stroke-width="1.1"/>
<path d="M517.4 350.6L534 350.6" stroke="#111" stroke-width="1.0" fill="none"/>
<path d="M517.4 350.6L525.5 364.3L543.5 334.7" stroke="#111" stroke-width="1.0" fill="none"/>
<text x="517.8" y="346.5" font-size="12" fill="#383838" text-anchor="start" font-weight="normal" font-family="Liberation Sans" textLength="14.5" lengthAdjust="spacingAndGlyphs">16</text>
<path d="M561 350.1L609.8 350.1L601.6 364.3L593.4 350.1L585.2 364.3L577.1 350.1L568.9 364.3L561 350.1" stroke="#111" stroke-width="1.0" fill="none"/>
<text x="617.5" y="361.5" font-size="10" fill="#383838" text-anchor="start" font-weight="bold" font-family="Liberation Sans">,</text>
<text x="627.8" y="361.5" font-size="10.5" fill="#383838" text-anchor="start" font-weight="normal" font-family="Liberation Sans" textLength="18.8" lengthAdjust="spacingAndGlyphs">N7</text>
<line x1="320.7" y1="399.7" x2="699" y2="399.7" stroke="#111" stroke-width="1.3"/>
<line x1="320.7" y1="421.7" x2="699" y2="421.7" stroke="#111" stroke-width="1.3"/>
<line x1="320.7" y1="443.7" x2="699" y2="443.7" stroke="#111" stroke-width="1.3"/>
<line x1="320.7" y1="465.7" x2="699" y2="465.7" stroke="#111" stroke-width="1.3"/>
<line x1="320.7" y1="487.7" x2="699" y2="487.7" stroke="#111" stroke-width="1.3"/>
<line x1="320.7" y1="508.2" x2="699" y2="508.2" stroke="#111" stroke-width="1.3"/>
<line x1="588.6" y1="530.2" x2="699" y2="530.2" stroke="#111" stroke-width="1.3"/>
<line x1="320.7" y1="399.7" x2="320.7" y2="550" stroke="#111" stroke-width="1.3"/>
<line x1="367.5" y1="399.7" x2="367.5" y2="508.2" stroke="#111" stroke-width="1.3"/>
<line x1="522.9" y1="399.7" x2="522.9" y2="508.2" stroke="#111" stroke-width="1.3"/>
<line x1="588.6" y1="399.7" x2="588.6" y2="550" stroke="#111" stroke-width="1.3"/>
<line x1="643.7" y1="399.7" x2="643.7" y2="550" stroke="#111" stroke-width="1.3"/>
<line x1="389.6" y1="508.2" x2="389.6" y2="550" stroke="#111" stroke-width="1.3"/>
<text x="345" y="416.1" font-size="14" fill="#383838" text-anchor="middle" font-weight="normal" font-family="Liberation Sans" textLength="9.5" lengthAdjust="spacingAndGlyphs">4</text>
<text x="430.1" y="417.1" font-size="13" fill="#383838" text-anchor="start" font-weight="normal" font-family="Liberation Sans" textLength="30.8" lengthAdjust="spacingAndGlyphs">Axis</text>
<text x="556" y="415.8" font-size="12.5" fill="#383838" text-anchor="middle" font-weight="normal" font-family="Liberation Sans" textLength="51.2" lengthAdjust="spacingAndGlyphs">SM45C</text>
<text x="616.4" y="416.6" font-size="14" fill="#383838" text-anchor="middle" font-weight="normal" font-family="Liberation Sans" textLength="6" lengthAdjust="spacingAndGlyphs">1</text>
<text x="345" y="437.3" font-size="14" fill="#383838" text-anchor="middle" font-weight="normal" font-family="Liberation Sans" textLength="9.5" lengthAdjust="spacingAndGlyphs">3</text>
<text x="409.6" y="436.8" font-size="13" fill="#383838" text-anchor="start" font-weight="normal" font-family="Liberation Sans" textLength="80.4" lengthAdjust="spacingAndGlyphs">Spur Gear</text>
<text x="556" y="437" font-size="12.5" fill="#383838" text-anchor="middle" font-weight="normal" font-family="Liberation Sans" textLength="57.7" lengthAdjust="spacingAndGlyphs">SNC415</text>
<text x="616.4" y="437.8" font-size="14" fill="#383838" text-anchor="middle" font-weight="normal" font-family="Liberation Sans" textLength="6" lengthAdjust="spacingAndGlyphs">1</text>
<text x="345" y="459.1" font-size="14" fill="#383838" text-anchor="middle" font-weight="normal" font-family="Liberation Sans" textLength="9.5" lengthAdjust="spacingAndGlyphs">2</text>
<text x="404.4" y="459.1" font-size="13" fill="#383838" text-anchor="start" font-weight="normal" font-family="Liberation Sans" textLength="94.2" lengthAdjust="spacingAndGlyphs">V Belt Pully</text>
<text x="556" y="458.8" font-size="12.5" fill="#383838" text-anchor="middle" font-weight="normal" font-family="Liberation Sans" textLength="51.3" lengthAdjust="spacingAndGlyphs">GC250</text>
<text x="616.4" y="459.6" font-size="14" fill="#383838" text-anchor="middle" font-weight="normal" font-family="Liberation Sans" textLength="6" lengthAdjust="spacingAndGlyphs">1</text>
<text x="345" y="480.7" font-size="14" fill="#383838" text-anchor="middle" font-weight="normal" font-family="Liberation Sans" textLength="9.5" lengthAdjust="spacingAndGlyphs">1</text>
<text x="419.8" y="479.6" font-size="13" fill="#383838" text-anchor="start" font-weight="normal" font-family="Liberation Sans" textLength="58.2" lengthAdjust="spacingAndGlyphs">Housing</text>
<text x="556" y="480.4" font-size="12.5" fill="#383838" text-anchor="middle" font-weight="normal" font-family="Liberation Sans" textLength="51.3" lengthAdjust="spacingAndGlyphs">GC250</text>
<text x="616.4" y="481.2" font-size="14" fill="#383838" text-anchor="middle" font-weight="normal" font-family="Liberation Sans" textLength="6" lengthAdjust="spacingAndGlyphs">1</text>
<text x="656.8" y="460.4" font-size="13" fill="#383838" text-anchor="start" font-weight="normal" font-family="Liberation Sans" textLength="9.1" lengthAdjust="spacingAndGlyphs">A</text>
<line x1="665.9" y1="455.5" x2="673" y2="455.5" stroke="#333" stroke-width="1.0"/>
<path d="M677.86 449L677.86 449.81M673.6 450.35L682.12 450.35M675.13 452.66a2.73 1.72 0 1 0 5.45 0a2.73 1.72 0 1 0 -5.45 0M687.09 449L687.09 455.55M682.97 451.36L687.09 451.36M682.97 453.19L687.09 453.19M676.91 458.59a3.79 2.11 0 1 0 7.58 0a3.79 2.11 0 1 0 -7.58 0" stroke="#222" stroke-width="1.1" fill="none"/>
<path d="M332.05 490.7L340.45 490.7M332.05 494.45L340.45 494.45M334.57 490.7L334.57 494.45M337.93 490.7L337.93 494.45M332.05 498.95L340.45 498.95L340.45 503.2L332.05 503.2L332.05 498.95M331 496.57L341.5 496.57M336.25 496.57L336.25 498.32" stroke="#222" stroke-width="1.1" fill="none"/>
<path d="M348 490.7L348 496.45L354.3 496.45L354.3 490.7M348 493.57L354.3 493.57M357.98 490.7L357.98 497.7M354.93 494.2L357.98 494.2M348.63 498.7L348.63 503.2L357.87 503.2" stroke="#222" stroke-width="1.1" fill="none"/>
<path d="M422.7 490.7L430.7 490.7M422.7 494.45L430.7 494.45M425.1 490.7L425.1 494.45M428.3 490.7L428.3 494.45M422.7 498.95L430.7 498.95L430.7 503.2L422.7 503.2L422.7 498.95M421.7 496.57L431.7 496.57M426.7 496.57L426.7 498.32" stroke="#222" stroke-width="1.1" fill="none"/>
<path d="M464 490.7L470 490.7L470 496.45L464 496.45L464 490.7M473.5 490.7L473.5 497.7M470.6 493.22L473.5 493.22M470.6 495.18L473.5 495.18M464.95 500.95a4.05 2.25 0 1 0 8.1 0a4.05 2.25 0 1 0 -8.1 0" stroke="#222" stroke-width="1.1" fill="none"/>
<path d="M544.5 492.54L549.7 492.54M547.1 493.03L544.5 502.36M547.1 496.96L549.7 502.36M551.36 491.6L551.36 503.3M551.36 497.45L553.03 497.45M554.38 491.6L554.38 503.3" stroke="#222" stroke-width="1.1" fill="none"/>
<path d="M558.7 491.6L564.88 491.6M561.79 491.87L558.7 496.98M561.79 494.02L564.88 496.98M568.18 491.6L568.18 498.15M559.32 499.09L568.38 499.09L568.38 501.19L559.32 501.19L559.32 503.3L568.38 503.3" stroke="#222" stroke-width="1.1" fill="none"/>
<path d="M608.4 491.6L603.53 497.45M608.4 493.65L613.27 497.45M602.6 500.02L614.2 500.02M608.4 500.02L608.4 503.3" stroke="#222" stroke-width="1.1" fill="none"/>
<path d="M619.4 491.6L626.36 491.6L626.36 494.29L619.4 494.29L619.4 496.98L626.36 496.98M628.22 491.6L628.22 498.15M628.22 493.96L631 493.96M628.22 495.79L631 495.79M621.41 501.19a3.79 2.11 0 1 0 7.58 0a3.79 2.11 0 1 0 -7.58 0" stroke="#222" stroke-width="1.1" fill="none"/>
<path d="M659.4 492.54L659.4 502.36L664.86 502.36L664.86 492.54M659.4 497.45L664.86 497.45M667.77 491.6L667.77 503.3" stroke="#222" stroke-width="1.1" fill="none"/>
<path d="M676.02 491.6L686.78 491.6L686.78 497.45M675 500.02L687.8 500.02M681.4 497.68L681.4 500.02" stroke="#222" stroke-width="1.1" fill="none"/>
<path d="M606.08 513.07L606.08 514.24M602.6 514.67L609.56 514.67M606.08 514.93L602.6 518.94M606.08 516.8L609.56 518.94M613.62 513.6L613.62 520.1M610.26 516.85L613.62 516.85M603.3 521.02L613.5 521.02L613.5 525.2" stroke="#222" stroke-width="1.1" fill="none"/>
<path d="M630.07 513.6L620.33 513.6L620.33 519.4L630.07 519.4M619.4 521.95L631 521.95M625.2 519.63L625.2 521.95" stroke="#222" stroke-width="1.1" fill="none"/>
<text x="658.1" y="525.2" font-size="13.5" fill="#383838" text-anchor="start" font-weight="normal" font-family="Liberation Sans" textLength="18.1" lengthAdjust="spacingAndGlyphs">1:1</text>
<path d="M602.6 533L609.56 533L609.56 538.34M611.42 533L611.42 539.5M611.42 536.25L614.2 536.25M603.3 540.42L613.5 540.42L613.5 544.6" stroke="#222" stroke-width="1.1" fill="none"/>
<path d="M619.4 533L619.4 538.34L626.36 538.34L626.36 533M619.4 535.67L626.36 535.67M630.42 533L630.42 539.5M627.06 536.25L630.42 536.25M620.1 540.42L620.1 544.6L630.3 544.6L630.3 540.42M620.1 542.51L630.3 542.51" stroke="#222" stroke-width="1.1" fill="none"/>
<text x="656.8" y="544.6" font-size="14" fill="#383838" text-anchor="start" font-weight="normal" font-family="Liberation Sans" textLength="7.8" lengthAdjust="spacingAndGlyphs">3</text>
<path d="M669.8 533L676.1 533L676.1 538.34M677.78 533L677.78 539.5M677.78 536.25L680.3 536.25M670.43 540.42L679.67 540.42L679.67 544.6M681.2 533L681.2 538.34L687.5 538.34L687.5 533M681.2 535.67L687.5 535.67M691.17 533L691.17 539.5M688.13 536.25L691.17 536.25M681.83 540.42L681.83 544.6L691.07 544.6L691.07 540.42M681.83 542.51L691.07 542.51" stroke="#222" stroke-width="1.1" fill="none"/>
<text x="326.7" y="525.8" font-size="12.5" fill="#383838" text-anchor="start" font-weight="normal" font-family="Liberation Sans" textLength="35.1" lengthAdjust="spacingAndGlyphs">Part</text>
<text x="326.7" y="543.3" font-size="12.5" fill="#383838" text-anchor="start" font-weight="normal" font-family="Liberation Sans" textLength="55.6" lengthAdjust="spacingAndGlyphs">Number</text>
<text x="411.5" y="532.5" font-size="12.5" fill="#383838" text-anchor="start" font-weight="normal" font-family="Liberation Sans" textLength="155.9" lengthAdjust="spacingAndGlyphs">Gear Box Assembly</text>
<path d="M398.5 -4.2L404.38 -4.2M401.44 -3.94L398.5 1.09M401.44 -1.82L404.38 1.09M407.81 -4.2L407.81 2.24M404.97 -0.98L407.81 -0.98M399.67 5.23a3.73 2.07 0 1 0 7.45 0a3.73 2.07 0 1 0 -7.45 0M409 -4.2L414.88 -4.2L414.88 1.09L409 1.09L409 -4.2M418.02 -4.2L418.02 2.24M409.59 3.16L418.21 3.16L418.21 5.23L409.59 5.23L409.59 7.3L418.21 7.3M428.52 -4.2L420.28 -4.2L420.28 1.55L428.52 1.55M419.5 4.08L429.3 4.08M424.4 1.78L424.4 4.08" stroke="#222" stroke-width="1.1" fill="none"/>
<text x="471.3" y="6.6" font-size="13" fill="#383838" text-anchor="start" font-weight="normal" font-family="Liberation Sans" textLength="14.6" lengthAdjust="spacingAndGlyphs">KS</text>
<text x="494.4" y="6.6" font-size="13" fill="#383838" text-anchor="start" font-weight="normal" font-family="Liberation Sans" textLength="8.5" lengthAdjust="spacingAndGlyphs">B</text>
<text x="512.6" y="6.6" font-size="13" fill="#383838" text-anchor="start" font-weight="normal" font-family="Liberation Sans" textLength="29.1" lengthAdjust="spacingAndGlyphs">1405</text>
<text x="547.8" y="6.6" font-size="13" fill="#383838" text-anchor="start" font-weight="normal" font-family="Liberation Sans" textLength="9.7" lengthAdjust="spacingAndGlyphs">3</text>
<path d="M560 -4.8L568 -4.8L568 -1.35M560 2.79L560 6.7L568 6.7L568 2.79M560 4.75L568 4.75M559 0.6L569 0.6" stroke="#222" stroke-width="1.1" fill="none"/></svg></body></html>
